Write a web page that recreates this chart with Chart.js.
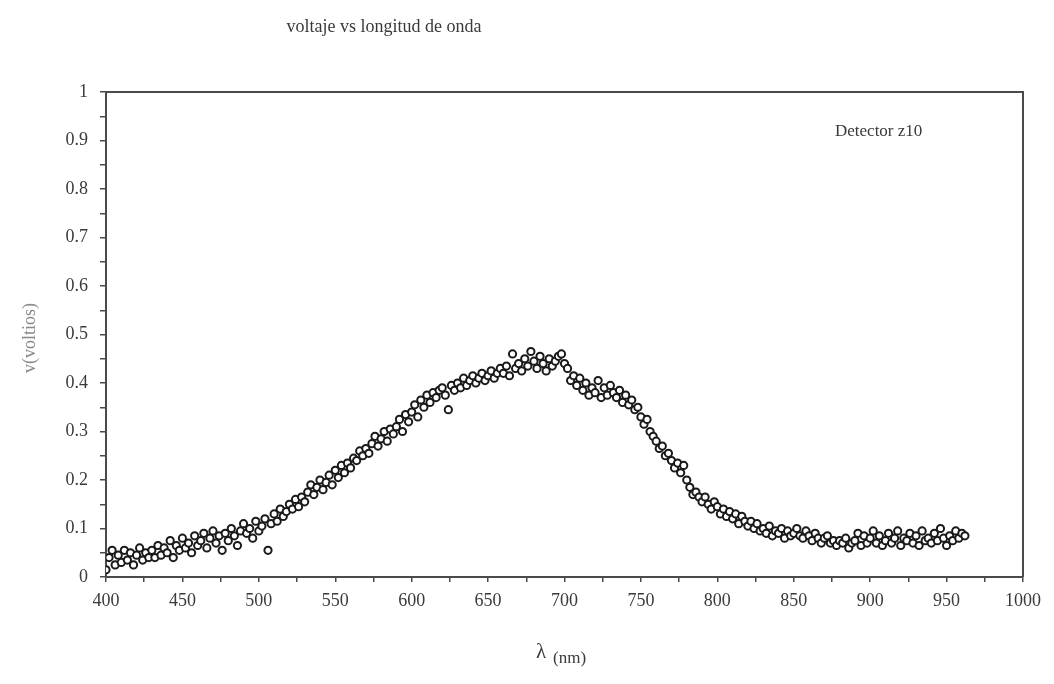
<!DOCTYPE html>
<html>
<head>
<meta charset="utf-8">
<script src="https://cdn.jsdelivr.net/npm/chart.js@4.4.1/dist/chart.umd.min.js"></script>
<style>
  html, body { margin: 0; padding: 0; background: #fff; }
  #wrap { width: 1054px; height: 684px; }
</style>
</head>
<body>
<div id="wrap"><canvas id="scatter-chart"></canvas></div>
<script>
// wavelength scan: 400 nm to 962 nm, one reading every 2 nm
const lambdaStart = 400;
const lambdaStep = 2;

// voltage readings (V), 5 per 10 nm
const voltios = [
  0.015, 0.04, 0.055, 0.025, 0.045,   // 400
  0.03, 0.055, 0.035, 0.05, 0.025,    // 410
  0.045, 0.06, 0.035, 0.05, 0.04,     // 420
  0.055, 0.04, 0.065, 0.045, 0.06,    // 430
  0.05, 0.075, 0.04, 0.065, 0.055,    // 440
  0.08, 0.06, 0.07, 0.05, 0.085,      // 450
  0.065, 0.075, 0.09, 0.06, 0.08,     // 460
  0.095, 0.07, 0.085, 0.055, 0.09,    // 470
  0.075, 0.1, 0.085, 0.065, 0.095,    // 480
  0.11, 0.09, 0.1, 0.08, 0.115,       // 490
  0.095, 0.105, 0.12, 0.055, 0.11,    // 500
  0.13, 0.115, 0.14, 0.125, 0.135,    // 510
  0.15, 0.14, 0.16, 0.145, 0.165,     // 520
  0.155, 0.175, 0.19, 0.17, 0.185,    // 530
  0.2, 0.18, 0.195, 0.21, 0.19,       // 540
  0.22, 0.205, 0.23, 0.215, 0.235,    // 550
  0.225, 0.245, 0.24, 0.26, 0.25,     // 560
  0.265, 0.255, 0.275, 0.29, 0.27,    // 570
  0.285, 0.3, 0.28, 0.305, 0.295,     // 580
  0.31, 0.325, 0.3, 0.335, 0.32,      // 590
  0.34, 0.355, 0.33, 0.365, 0.35,     // 600
  0.375, 0.36, 0.38, 0.37, 0.385,     // 610
  0.39, 0.375, 0.345, 0.395, 0.385,   // 620
  0.4, 0.39, 0.41, 0.395, 0.405,      // 630
  0.415, 0.4, 0.41, 0.42, 0.405,      // 640
  0.415, 0.425, 0.41, 0.42, 0.43,     // 650
  0.42, 0.435, 0.415, 0.46, 0.43,     // 660
  0.44, 0.425, 0.45, 0.435, 0.465,    // 670
  0.445, 0.43, 0.455, 0.44, 0.425,    // 680
  0.45, 0.435, 0.445, 0.455, 0.46,    // 690
  0.44, 0.43, 0.405, 0.415, 0.395,    // 700
  0.41, 0.385, 0.4, 0.375, 0.39,      // 710
  0.38, 0.405, 0.37, 0.39, 0.375,     // 720
  0.395, 0.38, 0.37, 0.385, 0.36,     // 730
  0.375, 0.355, 0.365, 0.345, 0.35,   // 740
  0.33, 0.315, 0.325, 0.3, 0.29,      // 750
  0.28, 0.265, 0.27, 0.25, 0.255,     // 760
  0.24, 0.225, 0.235, 0.215, 0.23,    // 770
  0.2, 0.185, 0.17, 0.175, 0.165,     // 780
  0.155, 0.165, 0.15, 0.14, 0.155,    // 790
  0.145, 0.13, 0.14, 0.125, 0.135,    // 800
  0.12, 0.13, 0.11, 0.125, 0.115,     // 810
  0.105, 0.115, 0.1, 0.11, 0.095,     // 820
  0.1, 0.09, 0.105, 0.085, 0.095,     // 830
  0.09, 0.1, 0.08, 0.095, 0.085,      // 840
  0.09, 0.1, 0.085, 0.08, 0.095,      // 850
  0.085, 0.075, 0.09, 0.08, 0.07,     // 860
  0.08, 0.085, 0.07, 0.075, 0.065,    // 870
  0.075, 0.07, 0.08, 0.06, 0.07,      // 880
  0.075, 0.09, 0.065, 0.085, 0.07,    // 890
  0.08, 0.095, 0.07, 0.085, 0.065,    // 900
  0.075, 0.09, 0.07, 0.08, 0.095,     // 910
  0.065, 0.08, 0.075, 0.09, 0.07,     // 920
  0.085, 0.065, 0.095, 0.075, 0.08,   // 930
  0.07, 0.09, 0.075, 0.1, 0.08,       // 940
  0.065, 0.085, 0.075, 0.095, 0.08,   // 950
  0.09, 0.085                         // 960
];

const titulo = 'voltaje vs longitud de onda';
const etiquetaY = 'v(voltios)';
const etiquetaX = ['λ', '(nm)'];
const nota = 'Detector z10';

const puntos = voltios.map((v, i) => ({ x: lambdaStart + i * lambdaStep, y: v }));

const serif = "'Liberation Serif', 'DejaVu Serif', serif";
const ink = '#3a3a3a';

// title, axis titles, note and the closed frame
const textos = {
  id: 'textos',
  afterDraw(chart) {
    const ctx = chart.ctx;
    const a = chart.chartArea;
    ctx.save();
    ctx.strokeStyle = '#4a4a4a';
    ctx.lineWidth = 2;
    ctx.beginPath();
    ctx.moveTo(a.left, a.top);
    ctx.lineTo(a.right, a.top);
    ctx.lineTo(a.right, a.bottom);
    ctx.stroke();

    ctx.fillStyle = ink;
    ctx.textAlign = 'center';
    ctx.textBaseline = 'middle';
    ctx.font = '18px ' + serif;
    ctx.fillText(titulo, 384, 27);

    ctx.font = '17px ' + serif;
    ctx.textAlign = 'left';
    ctx.fillText(nota, 835, 132);

    ctx.font = '21px ' + serif;
    ctx.fillText(etiquetaX[0], 536, 652);
    ctx.font = '17px ' + serif;
    ctx.fillText(etiquetaX[1], 553, 659);

    ctx.translate(30, 338);
    ctx.rotate(-Math.PI / 2);
    ctx.textAlign = 'center';
    ctx.fillStyle = '#888';
    ctx.font = '18px ' + serif;
    ctx.fillText(etiquetaY, 0, 0);
    ctx.restore();
  }
};

new Chart(document.getElementById('scatter-chart'), {
  type: 'scatter',
  data: {
    datasets: [{
      data: puntos,
      pointStyle: 'circle',
      pointRadius: 3.6,
      pointBorderWidth: 2,
      pointBorderColor: '#1a1a1a',
      pointBackgroundColor: '#fff'
    }]
  },
  options: {
    responsive: true,
    maintainAspectRatio: false,
    animation: false,
    layout: { padding: { top: 92, right: 31, left: 0, bottom: 0 } },
    plugins: {
      legend: { display: false },
      title: { display: false },
      tooltip: { enabled: false }
    },
    scales: {
      x: {
        type: 'linear',
        min: 400,
        max: 1000,
        afterFit(s) { s.height = 107; },
        border: { display: true, color: '#4a4a4a', width: 2 },
        grid: { drawOnChartArea: false, drawTicks: true, tickLength: 5, color: '#4a4a4a', lineWidth: 1.5 },
        ticks: {
          stepSize: 25,
          autoSkip: false,
          maxRotation: 0,
          padding: 8,
          color: ink,
          font: { family: serif, size: 18 },
          callback: v => (v % 50 === 0 ? String(v) : '')
        }
      },
      y: {
        min: 0,
        max: 1,
        afterFit(s) { s.width = 106; },
        border: { display: true, color: '#4a4a4a', width: 2 },
        grid: { drawOnChartArea: false, drawTicks: true, tickLength: 6, color: '#4a4a4a', lineWidth: 1.5 },
        ticks: {
          stepSize: 0.05,
          autoSkip: false,
          padding: 12,
          color: ink,
          font: { family: serif, size: 18 },
          callback: v => (Math.round(v * 100) % 10 === 0 ? String(Math.round(v * 10) / 10) : '')
        }
      }
    }
  },
  plugins: [textos]
});
</script>
</body>
</html>
